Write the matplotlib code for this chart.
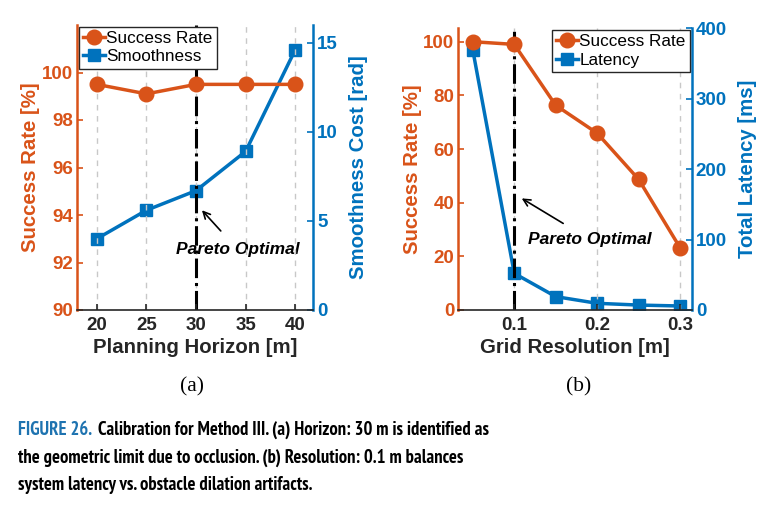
import matplotlib
matplotlib.use("Agg")
import matplotlib.pyplot as plt

# ---------------- data ----------------
horizon = [20, 25, 30, 35, 40]
succ_a = [99.5, 99.1, 99.5, 99.5, 99.5]
smooth_a = [4.0, 5.6, 6.7, 8.9, 14.6]

resolution = [0.05, 0.10, 0.15, 0.20, 0.25, 0.30]
succ_b = [100.0, 99.0, 76.3, 65.9, 48.7, 23.2]
latency_b = [369, 52, 19, 9.5, 7, 5.7]

xticks_a = [20, 25, 30, 35, 40]
xticks_b = [0.1, 0.2, 0.3]
yticks_a_left = [90, 92, 94, 96, 98, 100]
yticks_a_right = [0, 5, 10, 15]
yticks_b_left = [0, 20, 40, 60, 80, 100]
yticks_b_right = [0, 100, 200, 300, 400]

ORANGE = '#D95319'
BLUE = '#0072BD'
CAP_BLUE = '#1E73B0'

plt.rcParams['font.family'] = ['Liberation Sans', 'DejaVu Sans']

fig = plt.figure(figsize=(7.77, 5.13), dpi=100)
W, H = 777, 513

def axrect(x0, y0, x1, y1):
    return [x0 / W, 1 - y1 / H, (x1 - x0) / W, (y1 - y0) / H]

TICK_FS = 13.5
LAB_FS = 14.7
LEG_FS = 12.3


def style(ax, ax2):
    ax.spines['top'].set_visible(False)
    ax2.spines['top'].set_visible(False)
    ax.spines['right'].set_visible(False)
    ax2.spines['left'].set_visible(False)
    ax2.spines['bottom'].set_visible(False)
    ax.spines['left'].set_color(ORANGE)
    ax.spines['left'].set_linewidth(1.8)
    ax2.spines['right'].set_color(BLUE)
    ax2.spines['right'].set_linewidth(1.8)
    ax.spines['bottom'].set_color('#262626')
    ax.spines['bottom'].set_linewidth(1.2)
    ax.tick_params(axis='y', colors=ORANGE, direction='in', length=4, width=1.2,
                   labelsize=TICK_FS, pad=3)
    ax2.tick_params(axis='y', colors=BLUE, direction='in', length=4, width=1.2,
                    labelsize=TICK_FS, pad=3)
    ax.tick_params(axis='x', colors='#262626', direction='in', length=4, width=1.2,
                   labelsize=TICK_FS, pad=5)
    for lab in ax.get_yticklabels() + ax.get_xticklabels() + ax2.get_yticklabels():
        lab.set_fontweight('bold')
    ax.set_zorder(ax2.get_zorder() + 1)
    ax.patch.set_visible(False)


def make_legend(ax, handles, labels, loc):
    leg = ax.legend(handles, labels, loc=loc, fontsize=LEG_FS, handlelength=1.3,
                    handletextpad=0.05, borderpad=0.25, labelspacing=0.2,
                    fancybox=False, framealpha=1, edgecolor='#262626', borderaxespad=0.1)
    leg.get_frame().set_linewidth(1.0)
    return leg


# ---------------- panel (a) ----------------
ax = fig.add_axes(axrect(77, 25, 313, 310))
ax2 = ax.twinx()
ax.set_xlim(18, 41.8)
ax.set_ylim(90, 102)
ax2.set_ylim(0, 16)
ax.set_xticks(xticks_a)
ax.set_yticks(yticks_a_left)
ax2.set_yticks(yticks_a_right)
for x in xticks_a:
    ax.axvline(x, color='#c8c8c8', lw=1.0, ls=(0, (4, 4)), zorder=0)
ax.axvline(30, color='black', lw=2.2, ls='-.', zorder=1)
l1, = ax.plot(horizon, succ_a, '-o', color=ORANGE, lw=2.5, ms=10.5, zorder=3)
l2, = ax2.plot(horizon, smooth_a, '-s', color=BLUE, lw=2.5, ms=9, zorder=3)
style(ax, ax2)
ax.set_ylabel('Success Rate [%]', color=ORANGE, fontsize=LAB_FS, fontweight='bold', labelpad=1)
ax2.set_ylabel('Smoothness Cost [rad]', color=BLUE, fontsize=LAB_FS, fontweight='bold', labelpad=8)
ax.set_xlabel('Planning Horizon [m]', color='#262626', fontsize=LAB_FS, fontweight='bold', labelpad=3)
make_legend(ax, [l1, l2], ['Success Rate', 'Smoothness'], 'upper left')
ax2.annotate('Pareto Optimal', xy=(30.6, 5.6), xytext=(34.2, 3.4),
             ha='center', va='center', fontsize=12.5, fontweight='bold', style='italic',
             arrowprops=dict(arrowstyle='->', color='black', lw=1.2, shrinkA=8, shrinkB=0))

# ---------------- panel (b) ----------------
bx = fig.add_axes(axrect(458.3, 28.3, 691.7, 310))
bx2 = bx.twinx()
bx.set_xlim(0.0325, 0.314)
bx.set_ylim(0, 105)
bx2.set_ylim(0, 400)
bx.set_xticks(xticks_b)
bx.set_xticklabels(['0.1', '0.2', '0.3'])
bx.set_yticks(yticks_b_left)
bx2.set_yticks(yticks_b_right)
for x in xticks_b:
    bx.axvline(x, color='#c8c8c8', lw=1.0, ls=(0, (4, 4)), zorder=0)
bx.axvline(0.1, color='black', lw=2.2, ls='-.', zorder=1)
m1, = bx.plot(resolution, succ_b, '-o', color=ORANGE, lw=2.5, ms=10.5, zorder=3)
m2, = bx2.plot(resolution, latency_b, '-s', color=BLUE, lw=2.5, ms=9, zorder=3)
style(bx, bx2)
bx.set_ylabel('Success Rate [%]', color=ORANGE, fontsize=LAB_FS, fontweight='bold', labelpad=1)
bx2.set_ylabel('Total Latency [ms]', color=BLUE, fontsize=LAB_FS, fontweight='bold', labelpad=8)
bx.set_xlabel('Grid Resolution [m]', color='#262626', fontsize=LAB_FS, fontweight='bold', labelpad=3)
make_legend(bx, [m1, m2], ['Success Rate', 'Latency'], 'upper right')
bx.annotate('Pareto Optimal', xy=(0.109, 41.6), xytext=(0.191, 26.3),
            ha='center', va='center', fontsize=12.5, fontweight='bold', style='italic',
            arrowprops=dict(arrowstyle='->', color='black', lw=1.2, shrinkA=8, shrinkB=0))

# ---------------- sub labels ----------------
fig.text(191.7 / W, 1 - 386.7 / H, '(a)', ha='center', va='center', fontsize=15.5,
         family=['Liberation Serif', 'DejaVu Serif'])
fig.text(578.3 / W, 1 - 386.7 / H, '(b)', ha='center', va='center', fontsize=15.5,
         family=['Liberation Serif', 'DejaVu Serif'])

# ---------------- caption ----------------
cap_fam = ['PT Sans Narrow', 'Roboto Condensed', 'Liberation Sans', 'DejaVu Sans']
x0 = 17.5 / W
target_right = 490.0
line1a = 'FIGURE 26.'
line1b = 'Calibration for Method III. (a) Horizon: 30 m is identified as'
line2 = 'the geometric limit due to occlusion. (b) Resolution: 0.1 m balances'
line3 = 'system latency vs. obstacle dilation artifacts.'


def draw_caption(fs):
    t1 = fig.text(x0, 1 - 430 / H, line1a, color=CAP_BLUE, fontsize=fs,
                  fontweight='bold', family=cap_fam, va='center', ha='left')
    fig.canvas.draw()
    bb = t1.get_window_extent()
    t2 = fig.text(bb.x1 / W + 6 / W, 1 - 430 / H, line1b,
                  color='black', fontsize=fs, fontweight='bold', family=cap_fam,
                  va='center', ha='left')
    t3 = fig.text(x0, 1 - 458.3 / H, line2,
                  color='black', fontsize=fs, fontweight='bold', family=cap_fam,
                  va='center', ha='left')
    t4 = fig.text(x0, 1 - 485.5 / H, line3,
                  color='black', fontsize=fs, fontweight='bold', family=cap_fam,
                  va='center', ha='left')
    fig.canvas.draw()
    return [t1, t2, t3, t4]


fs = 13.2
texts = draw_caption(fs)
right = texts[1].get_window_extent().x1
fs2 = fs * (target_right - 17.5) / (right - 17.5)
fs2 = max(11.0, min(15.0, fs2))
for tt in texts:
    tt.remove()
draw_caption(fs2)

fig.savefig('out.png', dpi=100)
